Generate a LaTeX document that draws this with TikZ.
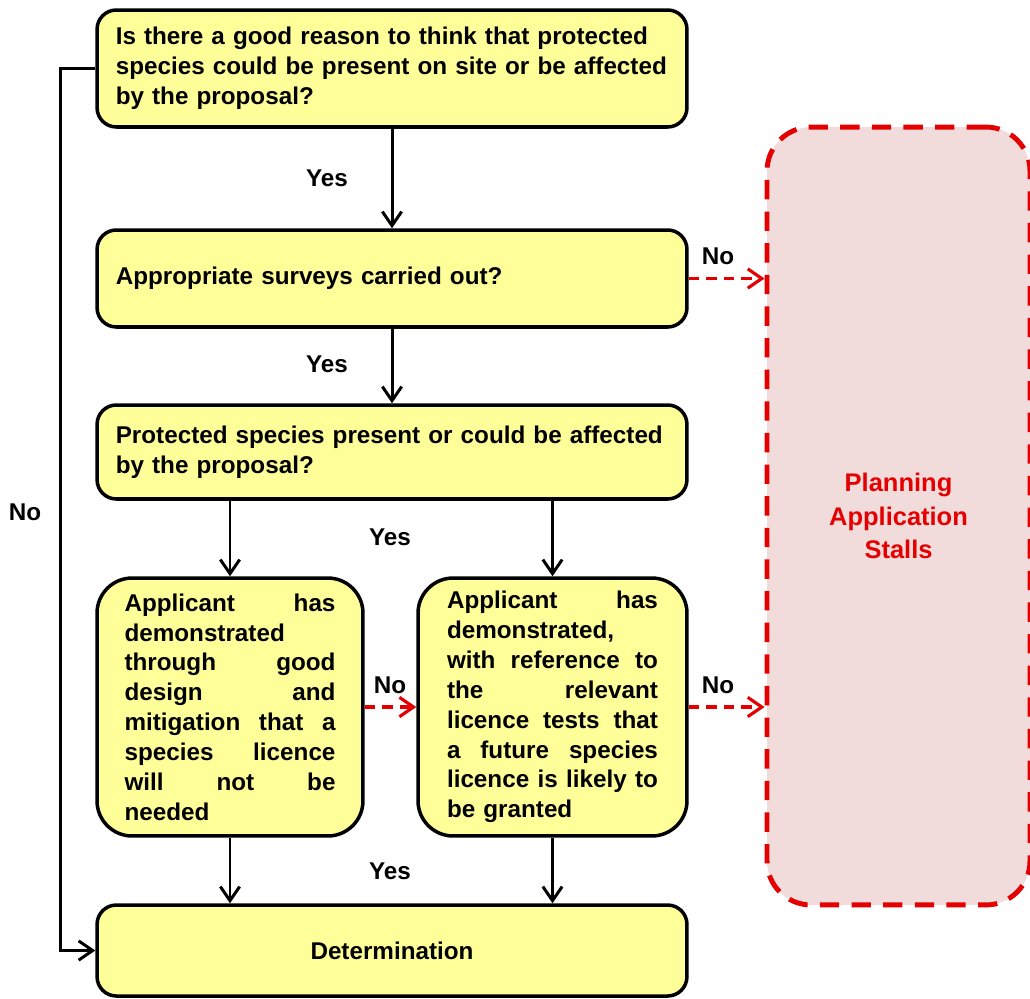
\documentclass[tikz,border=0pt]{standalone}
\usepackage{fontspec}
\setmainfont{Liberation Sans}
\usetikzlibrary{arrows.meta}
\definecolor{boxyellow}{RGB}{255,255,153}
\definecolor{stallpink}{RGB}{242,220,219}
\definecolor{stallred}{RGB}{228,0,0}

\begin{document}
\begin{tikzpicture}[x=0.02cm,y=-0.02cm]
  \tikzstyle{every node}+=[font=\bfseries\fontsize{13.8}{17}\selectfont]
  \tikzstyle{box}=[draw=black, line width=2pt, fill=boxyellow, rounded corners=11pt, inner sep=0pt]
  \tikzstyle{wide}=[box, minimum width=11.8cm, text width=11.05cm, align=left]
  \tikzstyle{tall}=[box, rounded corners=20pt, minimum height=5.16cm, text width=4.22cm, align=left]
  \tikzstyle{arr}=[draw=black, line width=1.7pt, -{Straight Barb[length=8pt,width=11pt]}]
  \tikzstyle{noarr}=[draw=stallred, line width=1.8pt, dash pattern=on 6pt off 4pt, -{Straight Barb[length=8pt,width=11pt]}]
  \useasboundingbox (0,0) rectangle (1030,998);
  % boxes
  \node [wide, minimum height=2.34cm] (reason) at (392,68.5)
    {Is there a good reason to think that protected\\species could be present on site or be affected\\by the proposal?};
  \node [wide, minimum height=1.94cm] (surveys) at (392,278.5)
    {Appropriate surveys carried out?};
  \node [wide, minimum height=1.88cm] (present) at (392,452)
    {Protected species present or could be affected\\by the proposal?};
  \node [tall, minimum width=5.32cm] (design) at (230,707)
    {Applicant\hfill has\\demonstrated\\through\hfill good\\design\hfill and\\mitigation\hfill that\hfill a\\species\hfill licence\\will\hfill not\hfill be\\needed};
  \node [tall, minimum width=5.38cm] (tests) at (552.5,707)
    {Applicant\hfill has\\demonstrated,\\with\hfill reference\hfill to\\the\hfill relevant\\licence\hfill tests\hfill that\\a\hfill future\hfill species\\licence\hfill is\hfill likely\hfill to\\be granted};
  \node [box, minimum width=11.8cm, minimum height=1.82cm] (determ) at (392,950.5)
    {Determination};
  \node [draw=stallred, line width=2.8pt, dash pattern=on 11pt off 7pt, fill=stallpink,
    rounded corners=25pt, minimum width=5.26cm, minimum height=15.56cm, inner sep=0pt,
    align=center, text=stallred, font=\bfseries\fontsize{14.5}{19}\selectfont] (stall) at (898.5,516)
    {Planning\\Application\\Stalls};
  % yes paths
  \draw [arr] (reason.south) -- (surveys.north);
  \node (yes1) at (327,178) {Yes};
  \draw [arr] (surveys.south) -- (present.north);
  \node (yes2) at (327,364) {Yes};
  \draw [arr] (design.north |- present.south) -- (design.north);
  \draw [arr] (tests.north |- present.south) -- (tests.north);
  \node (yes3) at (390,537) {Yes};
  \draw [arr] (design.south) -- (design.south |- determ.north);
  \draw [arr] (tests.south) -- (tests.south |- determ.north);
  \node (yes4) at (390,871) {Yes};
  % no paths
  \draw [arr] (reason.west) -- ++(-35,0) |- (determ.west);
  \node (no1) at (25,512) {No};
  \draw [noarr] (surveys.east) -- (stall.west |- surveys.east);
  \node (no2) at (718,256) {No};
  \draw [noarr] (design.east) -- (tests.west);
  \node (no3) at (390,685) {No};
  \draw [noarr] (tests.east) -- (stall.west |- tests.east);
  \node (no4) at (718,685) {No};
\end{tikzpicture}
\end{document}
